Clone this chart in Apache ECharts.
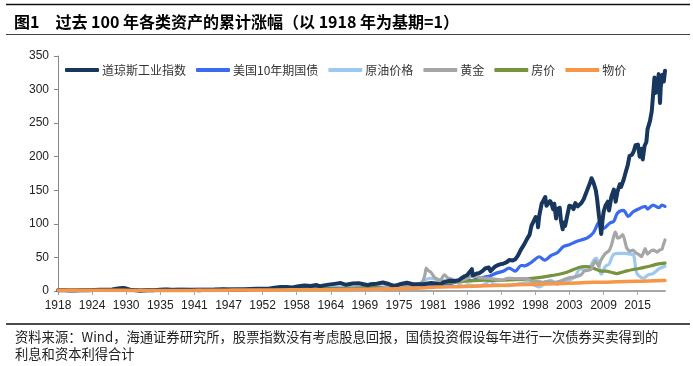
<!DOCTYPE html>
<html>
<head>
<meta charset="utf-8">
<script src="https://cdn.jsdelivr.net/npm/echarts@6/dist/echarts.min.js"></script>
<style>
html,body{margin:0;padding:0;background:#fff;}
#chart{width:693px;height:366px;}
</style>
</head>
<body>
<div id="chart"></div>
<script>
// ---- data (decimal years, index 1918 = 1) ----
const seriesNames = ['道琼斯工业指数', '美国10年期国债', '原油价格', '黄金', '房价', '物价'];
const tickLabels = ['1918','1924','1930','1935','1941','1947','1952','1958','1964','1969','1975','1981','1986','1992','1998','2003','2009','2015'];

const djiaT = [1918.92,1919.5,1919.9,1920.9,1921.6,1922.9,1923.9,1924.9,1925.9,1926.9,1927.9,1928.9,1929.7,1929.9,1930.3,1930.9,1931.9,1932.5,1933.9,1934.9,1935.9,1936.9,1937.2,1937.9,1938.9,1939.9,1940.9,1941.9,1942.3,1942.9,1943.9,1944.9,1945.9,1946.4,1946.9,1947.9,1948.9,1949.9,1950.9,1951.9,1952.9,1953.9,1954.9,1955.9,1956.9,1957.9,1958.9,1959.9,1960.9,1961.9,1962.4,1962.9,1963.9,1964.9,1965.9,1966.8,1966.9,1967.9,1968.9,1969.9,1970.4,1970.9,1971.9,1972.9,1973.9,1974.8,1974.9,1975.9,1976.9,1977.9,1978.9,1979.9,1980.9,1981.9,1982.6,1982.9,1983.9,1984.9,1985.5,1985.9,1986.5,1986.9,1987.3,1987.7,1987.85,1987.9,1988.5,1988.9,1989.5,1989.9,1990.5,1990.8,1990.9,1991.5,1991.9,1992.5,1992.9,1993.5,1993.9,1994.5,1994.9,1995.3,1995.6,1995.9,1996.3,1996.6,1996.9,1997.3,1997.6,1997.9,1998.3,1998.6,1998.7,1998.9,1999.3,1999.6,1999.9,2000.1,2000.4,2000.7,2000.9,2001.2,2001.4,2001.7,2001.9,2002.3,2002.5,2002.8,2002.9,2003.2,2003.5,2003.9,2004.3,2004.6,2004.9,2005.3,2005.6,2005.9,2006.3,2006.6,2006.9,2007.3,2007.6,2007.8,2007.9,2008.3,2008.5,2008.8,2008.9,2009.2,2009.4,2009.6,2009.9,2010.3,2010.5,2010.9,2011.3,2011.6,2011.9,2012.3,2012.5,2012.9,2013.3,2013.6,2013.9,2014.3,2014.6,2014.9,2015.3,2015.6,2015.9,2016.1,2016.4,2016.7,2016.9,2017.3,2017.6,2017.9,2018.05,2018.2,2018.5,2018.75,2018.97,2019.1,2019.4,2019.6,2019.8];
const djiaV = [1.0,1.2,1.3,0.9,0.85,1.2,1.15,1.45,1.9,1.95,2.4,3.6,4.6,3.0,3.6,2.0,0.95,0.55,1.2,1.3,1.75,2.2,2.3,1.5,1.9,1.8,1.6,1.35,1.3,1.5,1.65,1.85,2.35,2.6,2.1,2.2,2.15,2.4,2.9,3.3,3.5,3.4,4.9,5.9,6.0,5.3,7.1,8.2,7.5,8.9,6.8,8.0,9.5,10.6,11.8,9.2,9.7,11.2,11.5,9.8,8.5,10.2,10.9,12.6,10.4,7.3,7.5,10.5,12.3,10.1,9.9,10.5,11.8,10.7,9.5,12.8,15.1,14.8,16,18.6,22,23.5,28,32.5,23,24,26,26.5,30,33.5,35,29.5,32,36,38,40,40.5,43,46,45.5,47,52,57,62.5,68,70,78,84,97,96,110,105,95,112,130,135,140,127,128,134,131,122,130,108,122,124,105,92,102,97,110,127,126,122,131,126,128,131,137,138,151,160,168,170,162,150,138,114,107,85,104,118,127,133,120,141,151,133,148,159,155,165,178,187,201,203,208,217,218,200,212,196,216,222,241,253,268,301,318,295,298,323,280,305,322,312,328];

const bondT = [1918.92,1922,1926,1930,1935,1940,1945,1950,1955,1960,1965,1970,1975,1978,1980,1981.5,1982.9,1984,1985.9,1986.9,1987.7,1988.5,1989.9,1990.7,1991.9,1992.9,1993.9,1994.9,1995.9,1996.5,1997.3,1997.9,1998.9,1999.8,2000.9,2001.9,2002.9,2003.9,2004.9,2005.9,2006.9,2007.9,2008.9,2009.5,2009.9,2010.6,2011.3,2011.9,2012.9,2013.7,2014.5,2015.6,2016.5,2016.9,2017.8,2018.8,2019.3,2019.8];
const bondV = [1.0,1.15,1.35,1.6,2.1,2.5,2.9,3.1,3.3,3.6,4.2,4.7,6.0,6.8,7.3,7.6,10,11,15,16.5,15.5,18,21,22.5,27,29.5,34,29.5,38,37.5,41,45,51,46,53,57,66,69,73,76,79,87,103,93,95,101,104,116,120,111,118,123,126,122,128,124,128,126];

const oilT = [1918.92,1920.5,1922,1926,1931,1935,1940,1946,1948,1955,1960,1965,1970,1973,1974,1976,1978,1979.3,1979.9,1980.8,1981.5,1982.5,1983.5,1985,1986.3,1987,1988.8,1989.9,1990.8,1991.3,1993.9,1994.9,1996.9,1997.9,1998.9,1999.9,2000.8,2001.9,2002.9,2003.9,2004.9,2005.7,2006.9,2007.9,2008.4,2009.2,2009.9,2010.5,2011.2,2012,2013,2014,2014.6,2015.1,2016.2,2017,2017.8,2018.8,2019.5,2019.8];
const oilV = [1.0,1.5,0.85,0.9,0.35,0.5,0.5,0.6,1.2,1.2,1.4,1.4,1.5,2.0,5.0,5.8,6.5,10,16,19,18,16.5,14.8,13.5,7,9,7.5,10.5,16,10.5,8,9.5,12.5,9.5,6,12.5,16,10,15,16,22,33,31,45,49,25,37,40,54,56,56,55,53,27,19,24,26,33,36,37];

const goldT = [1918.92,1933.9,1934.1,1968,1969,1970,1971,1972,1973,1974,1974.9,1975.5,1976.6,1977.9,1978.9,1979.5,1979.9,1980.1,1980.5,1980.9,1981.5,1981.9,1982.5,1982.9,1983.2,1983.6,1984.5,1985.2,1985.9,1986.9,1987.9,1988.9,1989.9,1990.9,1991.9,1992.9,1993.6,1994.9,1995.9,1996.9,1997.9,1998.9,1999.6,1999.9,2000.9,2001.5,2002.3,2002.9,2003.9,2004.9,2005.9,2006.4,2006.9,2007.5,2007.9,2008.2,2008.8,2009.1,2009.9,2010.5,2010.9,2011.5,2011.7,2011.9,2012.3,2012.8,2013.4,2013.9,2014.5,2014.9,2015.5,2015.9,2016.5,2016.9,2017.5,2017.9,2018.5,2018.9,2019.3,2019.5,2019.8];
const goldV = [1.0,1.0,1.69,1.8,2.0,1.75,2.0,3.0,4.8,7.5,9.0,8.0,5.5,8.0,10.5,14,24,34,30,28,20,18,16,22,24,20,17,14.5,15.5,19,23,20,19,18.5,17,16.5,19,18.5,18.5,18,14,14,12.5,14,13.3,13,14.5,16.5,19.5,21,24.5,30,30.5,32,40,45,37,45,56,60,68,88,85,79,80,84,65,59,61,57,54,51,63,55,60,61,58,61,62,68,76];

const houseT = [1918.92,1921,1925,1929,1933,1938,1942,1946,1950,1955,1960,1965,1970,1973,1975,1977,1979,1980.5,1982,1984,1986,1988,1990,1991.5,1993,1995,1997,1998.5,2000,2002,2003.5,2004.5,2005.6,2006.4,2007.2,2008,2009,2010,2011,2011.8,2012.5,2013.5,2014.5,2015.5,2016.5,2017.5,2018.5,2019.8];
const houseV = [1.0,1.1,1.25,1.2,0.95,1.05,1.1,1.7,2.2,2.6,2.9,3.3,4.2,5.2,6.5,8.0,10.3,11.2,11.8,12.8,14.0,15.5,16.0,15.8,16.0,16.8,18.0,19.5,21.5,24.5,28,31.5,35.5,36.5,36,33.5,30,29.5,27.5,26,27.5,30,32,33.5,35.5,37.5,40,41.5];

const cpiT = [1918.92,1920.4,1921.9,1929.9,1933.2,1937,1940,1942,1946,1948,1950,1955,1960,1965,1970,1973,1975,1978,1980,1982,1985,1988,1990,1993,1995,1998,2000,2003,2005,2008,2009,2012,2015,2017,2019.8];
const cpiV = [1.0,1.22,1.02,1.04,0.78,0.87,0.85,0.99,1.1,1.46,1.45,1.63,1.8,1.92,2.35,2.7,3.26,3.95,5.0,5.9,6.5,7.2,7.9,8.6,9.2,9.8,10.4,11.1,11.8,13.0,13.0,13.9,14.4,14.9,15.6];

// ---- axis geometry (source axis: ticks every 68 months from Dec 1918) ----
const START = 1918 + 11 / 12;
const END = 2019.8;
const STEP = 68 / 12;
const tickValues = tickLabels.map((_, i) => START + i * STEP);

const pair = (T, V) => T.map((t, i) => [t, V[i]]);
const colors = {
  djia: '#17375E', bond: '#3A6BEF', oil: '#9DC8F0', gold: '#A6A6A6', house: '#77933C', cpi: '#F79646'
};
function mk(name, T, V, color, width, smooth, z) {
  return {
    name: name, type: 'line', data: pair(T, V), showSymbol: false, symbol: 'none',
    smooth: smooth, z: z, color: color,
    lineStyle: { color: color, width: width, join: 'round', cap: 'round' }
  };
}

const chart = echarts.init(document.getElementById('chart'), null, { renderer: 'canvas' });
const CJK = '"Noto Sans CJK SC", "Noto Sans", sans-serif';
const LAT = '"Liberation Sans", Arial, sans-serif';

chart.setOption({
  animation: false,
  backgroundColor: '#fff',
  title: {
    text: '图1\u2002\u2002过去 100 年各类资产的累计涨幅（以 1918 年为基期=1）',
    left: 9, top: 9,
    textStyle: { fontSize: 16, fontWeight: 'bold', color: '#000', fontFamily: CJK }
  },
  graphic: [
    { type: 'line', shape: { x1: 6, y1: 4.5, x2: 690, y2: 4.5 }, style: { stroke: '#111', lineWidth: 1.5 } },
    { type: 'line', shape: { x1: 6, y1: 34.5, x2: 690, y2: 34.5 }, style: { stroke: '#444', lineWidth: 1.2 } },
    { type: 'line', shape: { x1: 6, y1: 324, x2: 690, y2: 324 }, style: { stroke: '#111', lineWidth: 1.5 } },
    { type: 'text', left: 15, top: 330, style: { text: '资料来源：Wind，海通证券研究所，股票指数没有考虑股息回报，国债投资假设每年进行一次债券买卖得到的', font: '13.3px ' + CJK, fill: '#222' } },
    { type: 'text', left: 15, top: 347, style: { text: '利息和资本利得合计', font: '13.3px ' + CJK, fill: '#222' } }
  ],
  legend: {
    data: seriesNames,
    left: 60, top: 59,
    icon: 'roundRect', itemWidth: 34, itemHeight: 4, itemGap: 10,
    textStyle: { fontSize: 12, color: '#333', fontFamily: CJK, padding: [0, 0, 0, -2] }
  },
  grid: { left: 58, right: 28, top: 56, bottom: 75, containLabel: false },
  xAxis: {
    type: 'value', min: START, max: END,
    splitLine: { show: false },
    axisLine: { show: true, lineStyle: { color: '#A6A6A6', width: 2 } },
    axisTick: { show: true, customValues: tickValues, length: 4, lineStyle: { color: '#A6A6A6', width: 1 } },
    axisLabel: {
      customValues: tickValues, margin: 9, fontSize: 12, color: '#222', fontFamily: LAT,
      formatter: (v) => { const i = Math.round((v - START) / STEP); return tickLabels[i] || ''; }
    }
  },
  yAxis: {
    type: 'value', min: 0, max: 350, interval: 50,
    splitLine: { show: false },
    axisLine: { show: true, lineStyle: { color: '#868686', width: 1 } },
    axisTick: { show: true, length: 4, lineStyle: { color: '#868686' } },
    axisLabel: { margin: 9, fontSize: 12, color: '#222', fontFamily: LAT }
  },
  series: [
    mk(seriesNames[1], bondT, bondV, colors.bond, 3.2, 0.3, 2),
    mk(seriesNames[2], oilT, oilV, colors.oil, 3.2, 0.3, 3),
    mk(seriesNames[4], houseT, houseV, colors.house, 3.2, 0.3, 4),
    mk(seriesNames[3], goldT, goldV, colors.gold, 3.2, 0.15, 5),
    mk(seriesNames[0], djiaT, djiaV, colors.djia, 4, false, 6),
    mk(seriesNames[5], cpiT, cpiV, colors.cpi, 3.5, 0.3, 7)
  ]
});
</script>
</body>
</html>
